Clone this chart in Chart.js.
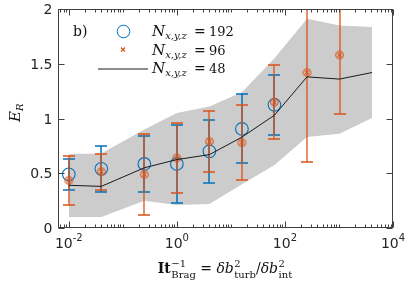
<!DOCTYPE html>
<html>
<head>
<meta charset="utf-8">
<script src="https://cdn.jsdelivr.net/npm/chart.js@4"></script>
<style>
html, body { margin: 0; padding: 0; background: #fff; }
canvas { display: block; }
</style>
</head>
<body>
<canvas id="chart" width="411" height="291"></canvas>
<script>
// x values (It_Brag^-1)
const xVals = [0.01, 0.04, 0.25, 1, 4, 16, 64, 256, 1024, 4096];

// N = 192, blue circles with error bars
const e192 = [0.49, 0.54, 0.585, 0.585, 0.70, 0.905, 1.125];
const err192 = [0.142, 0.21, 0.255, 0.355, 0.29, 0.315, 0.275];

// N = 96, orange markers with error bars
const e96 = [0.435, 0.515, 0.49, 0.64, 0.79, 0.78, 1.15, 1.42, 1.58];
const err96 = [0.225, 0.165, 0.37, 0.32, 0.28, 0.34, 0.34, 0.815, 0.535];

// N = 48, black line
const e48 = [0.39, 0.38, 0.55, 0.625, 0.67, 0.83, 1.03, 1.38, 1.36, 1.42];

// grey band
const bandHigh = [0.675, 0.68, 0.90, 1.05, 1.11, 1.24, 1.55, 1.91, 1.85, 1.835];
const bandLow = [0.10, 0.10, 0.25, 0.21, 0.22, 0.40, 0.575, 0.83, 0.86, 1.005];

const yTicks = [0, 0.5, 1, 1.5, 2];
const yTickLabels = ['0', '0.5', '1', '1.5', '2'];
const xTickExp = [-2, 0, 2, 4];
const legendLabels = ['192', '96', '48'];

const blue = '#0072BD';
const orange = '#D95319';
const grey = 'rgb(204,204,204)';
const axisColor = '#404040';

function pts(vals) {
    return vals.map((v, i) => ({x: xVals[i], y: v}));
}

// orange marker: small circle with a cross inside
function makeMarker() {
    const c = document.createElement('canvas');
    c.width = 11; c.height = 11;
    const g = c.getContext('2d');
    g.strokeStyle = orange;
    g.lineWidth = 1.1;
    g.beginPath(); g.arc(5.5, 5.5, 3.8, 0, 2 * Math.PI); g.stroke();
    g.beginPath();
    g.moveTo(3.5, 3.5); g.lineTo(7.5, 7.5);
    g.moveTo(7.5, 3.5); g.lineTo(3.5, 7.5);
    g.stroke();
    return c;
}

// draws text pieces one after another, returns end x
function drawRich(ctx, x, y, parts, measureOnly) {
    for (const p of parts) {
        ctx.font = p.font;
        if (p.sup !== undefined || p.sub !== undefined) {
            let w = 0;
            if (p.sup) {
                if (!measureOnly) ctx.fillText(p.sup, x, y - p.up);
                w = ctx.measureText(p.sup).width;
            }
            if (p.sub) {
                if (!measureOnly) ctx.fillText(p.sub, x, y + p.down);
                w = Math.max(w, ctx.measureText(p.sub).width);
            }
            x += w + (p.gap || 0);
        } else {
            if (!measureOnly) ctx.fillText(p.t, x, y + (p.dy || 0));
            x += ctx.measureText(p.t).width + (p.gap || 0);
        }
    }
    return x;
}

const errorBars = {
    id: 'errorBars',
    beforeDatasetDraw(chart, args) {
        const ds = chart.data.datasets[args.index];
        if (!ds.errors) { return; }
        const {ctx, chartArea, scales: {x, y}} = chart;
        ctx.save();
        ctx.beginPath();
        ctx.rect(chartArea.left, chartArea.top, chartArea.width, chartArea.height);
        ctx.clip();
        ctx.strokeStyle = ds.errColor;
        ctx.lineWidth = ds.errWidth;
        ds.data.forEach((p, i) => {
            // sit on pixel edges so the thin coloured lines keep their colour
            const px = Math.round(x.getPixelForValue(p.x));
            const top = Math.round(y.getPixelForValue(p.y + ds.errors[i]));
            const bot = Math.round(y.getPixelForValue(p.y - ds.errors[i]));
            ctx.beginPath();
            ctx.moveTo(px, top); ctx.lineTo(px, bot);
            ctx.moveTo(px - 6, top); ctx.lineTo(px + 6, top);
            ctx.moveTo(px - 6, bot); ctx.lineTo(px + 6, bot);
            ctx.stroke();
        });
        ctx.restore();
    }
};

const frame = {
    id: 'frame',
    afterDraw(chart) {
        const {ctx, chartArea: a, scales: {x, y}} = chart;
        const L = Math.round(a.left) + 0.5, R = Math.round(a.right) - 0.5;
        const T = Math.round(a.top) + 0.5, B = Math.round(a.bottom) - 0.5;
        ctx.save();
        ctx.strokeStyle = axisColor;
        ctx.lineWidth = 1;
        ctx.strokeRect(L, T, R - L, B - T);

        // y ticks, both sides
        ctx.beginPath();
        yTicks.forEach(v => {
            const py = Math.round(y.getPixelForValue(v)) + 0.5;
            ctx.moveTo(L, py); ctx.lineTo(L + 6, py);
            ctx.moveTo(R, py); ctx.lineTo(R - 6, py);
        });
        // x log ticks, top and bottom
        for (let k = -3; k <= 4; k++) {
            for (let m = 1; m <= 9; m++) {
                const v = m * Math.pow(10, k);
                if (v < x.min || v > x.max) { continue; }
                const px = Math.round(x.getPixelForValue(v)) + 0.5;
                const len = (m === 1 && k % 2 === 0) ? 6 : 3;
                ctx.moveTo(px, B); ctx.lineTo(px, B - len);
                ctx.moveTo(px, T); ctx.lineTo(px, T + len);
            }
        }
        ctx.stroke();

        // tick labels
        ctx.fillStyle = '#262626';
        ctx.textBaseline = 'alphabetic';
        ctx.font = '14px "DejaVu Sans"';
        ctx.textAlign = 'right';
        yTicks.forEach((v, i) => {
            ctx.fillText(yTickLabels[i], 52.5, y.getPixelForValue(v) + 5);
        });
        ctx.textAlign = 'left';
        xTickExp.forEach(k => {
            const parts = [{t: '10', font: '14px "DejaVu Sans"'}, {t: String(k), font: '10px "DejaVu Sans"', dy: -7}];
            const w = drawRich(ctx, 0, 0, parts, true);
            const px = x.getPixelForValue(Math.pow(10, k));
            drawRich(ctx, px - w / 2, 248, parts);
        });

        // axis titles
        ctx.fillStyle = '#111';
        const xt = [
            {t: 'It', font: 'bold 14px "DejaVu Serif"', gap: 0.5},
            {sup: '\u22121', sub: 'Brag', font: '10px "DejaVu Serif"', up: 6, down: 5},
            {t: ' = ', font: '14px "DejaVu Serif"'},
            {t: '\u03B4b', font: 'italic 14px "DejaVu Serif"', gap: 0.5},
            {sup: '2', sub: 'turb', font: '10px "DejaVu Serif"', up: 6, down: 5},
            {t: '/', font: '14px "DejaVu Serif"'},
            {t: '\u03B4b', font: 'italic 14px "DejaVu Serif"', gap: 0.5},
            {sup: '2', sub: 'int', font: '10px "DejaVu Serif"', up: 6, down: 5}
        ];
        const xw = drawRich(ctx, 0, 0, xt, true);
        drawRich(ctx, 225 - xw / 2, 273, xt);

        ctx.save();
        ctx.translate(19.5, 122);
        ctx.rotate(-Math.PI / 2);
        drawRich(ctx, 0, 0, [
            {t: 'E', font: 'italic 15px "DejaVu Serif"'},
            {t: 'R', font: 'italic 10px "DejaVu Serif"', dy: 3}
        ]);
        ctx.restore();

        // legend
        ctx.fillStyle = '#111';
        ctx.font = '14px "DejaVu Serif"';
        ctx.fillText('b)', 73, 35.5);

        ctx.strokeStyle = blue;
        ctx.lineWidth = 1;
        ctx.beginPath(); ctx.arc(123.5, 31.5, 6.3, 0, 2 * Math.PI); ctx.stroke();
        ctx.strokeStyle = orange;
        ctx.lineWidth = 1.2;
        ctx.beginPath();
        ctx.moveTo(121, 47.5); ctx.lineTo(125, 51.5);
        ctx.moveTo(125, 47.5); ctx.lineTo(121, 51.5);
        ctx.stroke();
        ctx.strokeStyle = '#1a1a1a';
        ctx.lineWidth = 1;
        ctx.beginPath(); ctx.moveTo(98, 69); ctx.lineTo(148, 69); ctx.stroke();

        const rows = [35.5, 54.5, 72.5];
        rows.forEach((by, i) => {
            drawRich(ctx, 152, by, [
                {t: 'N', font: 'italic 15px "DejaVu Serif"'},
                {t: 'x,y,z', font: 'italic 10px "DejaVu Serif"', dy: 3}
            ]);
            ctx.font = '14px "DejaVu Serif"';
            ctx.fillText('=', 194, by);
            ctx.font = '13px "DejaVu Serif"';
            ctx.fillText(legendLabels[i], 209, by);
        });
        ctx.restore();
    }
};

const datasets = [
    {
        data: pts(bandHigh),
        borderWidth: 0,
        pointRadius: 0,
        backgroundColor: grey,
        fill: '+1',
        order: 10
    },
    {
        data: pts(bandLow),
        borderWidth: 0,
        pointRadius: 0,
        fill: false,
        order: 10
    },
    {
        data: pts(e192),
        showLine: false,
        pointStyle: 'circle',
        pointRadius: 6.3,
        pointBorderWidth: 1.1,
        borderColor: blue,
        backgroundColor: 'rgba(0,0,0,0)',
        errors: err192,
        errColor: blue,
        errWidth: 1.5,
        order: 3
    },
    {
        data: pts(e96),
        showLine: false,
        pointStyle: makeMarker(),
        pointRadius: 5,
        borderColor: orange,
        errors: err96,
        errColor: orange,
        errWidth: 1.3,
        order: 2
    },
    {
        data: pts(e48),
        borderColor: '#1a1a1a',
        borderWidth: 1,
        pointRadius: 0,
        tension: 0,
        fill: false,
        order: 1
    }
];

new Chart(document.getElementById('chart'), {
    type: 'line',
    data: {datasets: datasets},
    options: {
        responsive: false,
        animation: false,
        events: [],
        layout: {padding: {left: 58, right: 18, top: 9, bottom: 63}},
        plugins: {legend: {display: false}, tooltip: {enabled: false}},
        scales: {
            x: {type: 'logarithmic', min: Math.pow(10, -2.2), max: 10000, display: false},
            y: {type: 'linear', min: 0, max: 2, display: false}
        }
    },
    plugins: [errorBars, frame]
});
</script>
</body>
</html>
